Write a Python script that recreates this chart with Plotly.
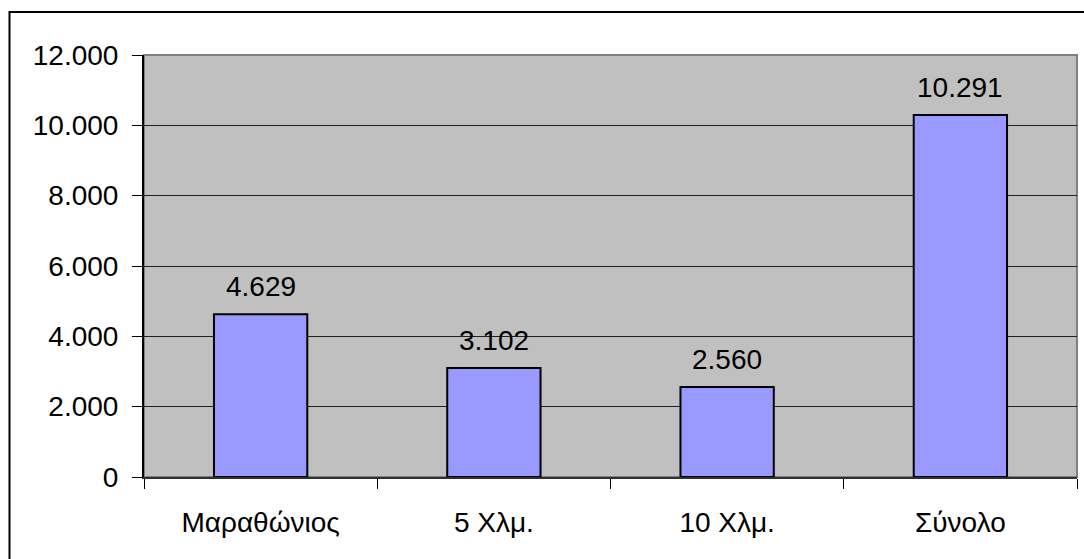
import plotly.graph_objects as go

# Participants per race
categories = ["Μαραθώνιος", "5 Χλμ.", "10 Χλμ.", "Σύνολο"]
participants = [4629, 3102, 2560, 10291]
y_ticks = [0, 2000, 4000, 6000, 8000, 10000, 12000]

W, H = 1084, 559
L, R, T, B = 144, 7, 55, 82
pw, ph = W - L - R, H - T - B

FONT = "Liberation Sans, Arial, sans-serif"
FS = 28

fig = go.Figure()
fig.add_trace(go.Bar(
    x=categories,
    y=participants,
    marker=dict(color="#9999FF", line=dict(color="black", width=2)),
    width=0.4,
    hoverinfo="x+y",
))

for c, v in zip(categories, participants):
    fig.add_annotation(
        x=c, y=v, xref="x", yref="y",
        text=f"{v:,}".replace(",", "."),
        showarrow=False, yanchor="bottom", yshift=10,
        font=dict(family=FONT, size=FS, color="black"),
    )

# frame of the plotting area (grey top/right edges)
fig.add_shape(type="rect", xref="paper", yref="paper", x0=0, y0=0, x1=1, y1=1,
              line=dict(color="#808080", width=2), layer="below")
# outer chart border
fig.add_shape(type="rect", xref="paper", yref="paper",
              x0=(9.5 - L) / pw, x1=(W + 20 - L) / pw,
              y0=-(H + 20 - T - ph) / ph, y1=(ph + T - 12) / ph,
              line=dict(color="black", width=2))

fig.update_layout(
    width=W, height=H,
    margin=dict(l=L, r=R, t=T, b=B, pad=0),
    paper_bgcolor="white",
    plot_bgcolor="#C0C0C0",
    separators=",.",
    showlegend=False,
    bargap=0.6,
    font=dict(family=FONT, size=FS, color="black"),
    xaxis=dict(
        type="category",
        tickson="boundaries",
        ticks="outside", ticklen=10, tickcolor="black", tickwidth=1,
        showline=True, linecolor="#303030", linewidth=2,
        showgrid=False, zeroline=False,
        ticklabelstandoff=19,
        tickfont=dict(family=FONT, size=FS, color="black"),
    ),
    yaxis=dict(
        range=[0, 12000],
        tickvals=y_ticks,
        tickformat=",d",
        ticks="outside", ticklen=10, tickcolor="black", tickwidth=1,
        showline=True, linecolor="black", linewidth=2,
        showgrid=True, gridcolor="#202020", gridwidth=1,
        zeroline=False,
        ticklabelstandoff=8,
        tickfont=dict(family=FONT, size=FS, color="black"),
    ),
)

fig.write_html("out.html")
